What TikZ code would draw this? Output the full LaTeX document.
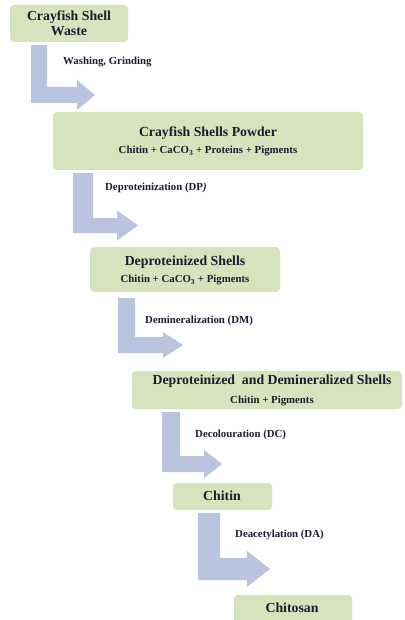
\documentclass[tikz,border=0pt]{standalone}
\usepackage{fontspec}
\setmainfont{Liberation Serif}
\definecolor{boxgreen}{HTML}{D7E3BD}
\definecolor{arrowblue}{HTML}{B9C4DE}
\definecolor{inktext}{HTML}{1C1C30}
\tikzset{
  stagebox/.style={fill=boxgreen, rounded corners=4pt, draw=none},
  titletext/.style={font=\bfseries\fontsize{13.8}{15}\selectfont, text=inktext, inner sep=0pt, anchor=center},
  subtext/.style={font=\bfseries\fontsize{10.8}{12}\selectfont, text=inktext, inner sep=0pt, anchor=center},
  steptext/.style={font=\bfseries\fontsize{10.8}{12}\selectfont, text=inktext, inner sep=0pt, anchor=west},
  flowarrow/.style={fill=arrowblue, draw=none}
}
% #1 left x, #2 bar width, #3 top y, #4 bottom y, #5 horizontal bar thickness, #6 tip x, #7 head length, #8 head half height
\newcommand{\bentarrow}[8]{%
  \fill[flowarrow] (#1,#3) -- ({#1+#2},#3) -- ({#1+#2},{#4-#5}) -- ({#6-#7},{#4-#5})
    -- ({#6-#7},{#4-#5/2-#8}) -- (#6,{#4-#5/2}) -- ({#6-#7},{#4-#5/2+#8})
    -- ({#6-#7},#4) -- (#1,#4) -- cycle;}
\begin{document}
\begin{tikzpicture}[x=1pt,y=-1pt]
\useasboundingbox (0,0) rectangle (404,620);
% boxes
\fill[stagebox] (10,5) rectangle (128,42);
\node[titletext] (b1a) at (69,17) {Crayfish Shell};
\node[titletext] (b1b) at (69,31) {Waste};

\fill[stagebox] (53,112) rectangle (363,170);
\node[titletext] (b2a) at (208,133) {Crayfish Shells Powder};
\node[subtext] (b2b) at (208,151) {Chitin + CaCO\textsubscript{3} + Proteins + Pigments};

\fill[stagebox] (90,247) rectangle (280,292);
\node[titletext] (b3a) at (185,262) {Deproteinized Shells};
\node[subtext] (b3b) at (185,280) {Chitin + CaCO\textsubscript{3} + Pigments};

\fill[stagebox] (132,371) rectangle (402,409);
\node[titletext] (b4a) at (272,381) {Deproteinized\ \ and Demineralized Shells};
\node[subtext] (b4b) at (272,401) {Chitin + Pigments};

\fill[stagebox] (173,483) rectangle (272,510);
\node[titletext] (b5) at (222,496) {Chitin};

\fill[stagebox] (234,595) rectangle (352,626);
\node[titletext] (b6) at (292,608) {Chitosan};

% arrows
\bentarrow{31}{16}{45}{103}{16}{95}{18}{15}
\bentarrow{73}{20}{173}{233}{15}{138}{21}{15}
\bentarrow{118}{17}{298}{353}{16}{183}{20}{13}
\bentarrow{162}{18}{412}{472}{16}{222}{18}{14}
\bentarrow{198}{22}{513}{580}{22}{270}{23}{18}

% step labels
\node[steptext] (s1) at (63,62) {Washing, Grinding};
\node[steptext] (s2) at (105,188) {Deproteinization (DP\textit{)}};
\node[steptext] (s3) at (145,321) {Demineralization (DM)};
\node[steptext] (s4) at (195,435) {Decolouration (DC)};
\node[steptext] (s5) at (235,535) {Deacetylation (DA)};
\end{tikzpicture}
\end{document}
